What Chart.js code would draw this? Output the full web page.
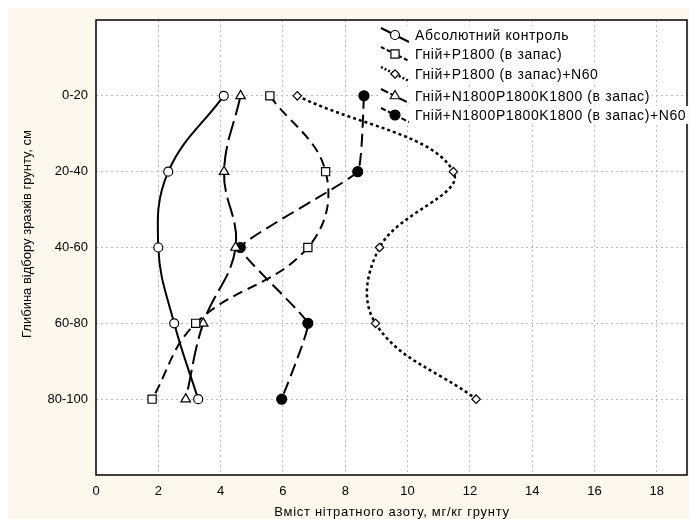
<!DOCTYPE html>
<html>
<head>
<meta charset="utf-8">
<script src="https://cdn.jsdelivr.net/npm/chart.js@4"></script>
<style>
  html, body { margin: 0; padding: 0; background: #fff; }
  #wrap { width: 689px; height: 519px; }
</style>
</head>
<body>
<div id="wrap"><canvas id="chart" width="689" height="519"></canvas></div>
<script>
// ───── Nitrate nitrogen by soil depth ─────────────────────────────────────
// Depth layers run down the y axis, nitrate content along x.

const depths = ['0-20', '20-40', '40-60', '60-80', '80-100'];
const xTicks = [0, 2, 4, 6, 8, 10, 12, 14, 16, 18];

const seriesNames = [
  'Абсолютний контроль',
  'Гній+P1800 (в запас)',
  'Гній+P1800 (в запас)+N60',
  'Гній+N1800P1800K1800 (в запас)',
  'Гній+N1800P1800K1800 (в запас)+N60',
];

// values per depth layer, mg/kg
const controlVals = [4.1, 2.32, 2.0, 2.51, 3.28];
const manureP = [5.58, 7.37, 6.8, 3.2, 1.8];
const manurePN60 = [6.46, 11.47, 9.1, 8.97, 12.2];
const manureNPK = [4.64, 4.11, 4.48, 3.44, 2.88];
const manureNPKN60 = [8.6, 8.4, 4.63, 6.8, 5.96];

const FONT = '"Liberation Sans", Arial, sans-serif';
const CREAM = '#fdf8ee';
const PLOT_RIGHT = 688;

const styles = [
  { values: controlVals, pointStyle: 'circle', radius: 4.5, fill: '#fff', dash: [], width: 2, tension: 0.4 },
  { values: manureP, pointStyle: 'rect', radius: 5.8, fill: '#fff', dash: [10, 6], width: 2, tension: 0.4 },
  { values: manurePN60, pointStyle: 'rectRot', radius: 4.2, fill: '#fff', dash: [3, 3], width: 2.5, tension: 0.4 },
  { values: manureNPK, pointStyle: 'triangle', radius: 5.5, fill: '#fff', dash: [20, 6], width: 2, tension: 0.4 },
  { values: manureNPKN60, pointStyle: 'circle', radius: 5, fill: '#000', dash: [13, 6], width: 2, tension: 0.1 },
];

const datasets = styles.map((s, i) => ({
  label: seriesNames[i],
  data: s.values.map((v, k) => ({ x: v, y: k + 1 })),
  borderColor: '#000',
  borderWidth: s.width,
  borderDash: s.dash,
  tension: s.tension,
  fill: false,
  pointStyle: s.pointStyle,
  pointRadius: s.radius,
  pointBackgroundColor: s.fill,
  pointBorderColor: '#000',
  pointBorderWidth: 1.2,
}));

// Cream page, white plot, frame, axis titles and the legend.
const decor = {
  id: 'decor',
  afterLayout(chart) {
    // stretch the plot to the right edge, the way the original sits
    const a = chart.chartArea;
    const x = chart.scales.x;
    a.right = PLOT_RIGHT;
    a.width = a.right - a.left;
    x.right = PLOT_RIGHT;
    x.width = x.right - x.left;
    x.configure();
  },
  beforeDraw(chart) {
    const { ctx, chartArea: a } = chart;
    ctx.save();
    ctx.fillStyle = '#fff';
    ctx.fillRect(0, 0, chart.width, chart.height);
    ctx.fillStyle = CREAM;
    ctx.fillRect(8, 8, chart.width - 8, chart.height - 8);
    ctx.fillStyle = '#fff';
    ctx.fillRect(a.left, a.top, a.right - a.left, a.bottom - a.top);
    ctx.restore();
  },
  afterDraw(chart) {
    const { ctx, chartArea: a } = chart;
    ctx.save();
    ctx.setLineDash([]);
    ctx.strokeStyle = '#000';
    ctx.lineWidth = 1.5;
    ctx.strokeRect(a.left, a.top, a.right - a.left - 1, a.bottom - a.top);

    // axis titles
    ctx.fillStyle = '#000';
    ctx.font = '13px ' + FONT;
    ctx.letterSpacing = '0.7px';
    ctx.textAlign = 'center';
    ctx.textBaseline = 'middle';
    ctx.fillText('Вміст нітратного азоту, мг/кг грунту', (a.left + a.right) / 2, 512);
    ctx.letterSpacing = '0px';
    ctx.translate(27, 234);
    ctx.rotate(-Math.PI / 2);
    ctx.fillText('Глибина відбору зразків грунту, см', 0, 0);
    ctx.restore();

    // legend
    ctx.save();
    ctx.font = '14px ' + FONT;
    ctx.letterSpacing = '0.6px';
    const rowY = [35, 54, 74, 96, 115];
    styles.forEach((s, i) => {
      const y = rowY[i];
      const tw = ctx.measureText(seriesNames[i]).width;
      ctx.fillStyle = '#fff';
      ctx.fillRect(378, y - 9, 415 - 378 + tw + 2, 18);
      ctx.strokeStyle = '#000';
      ctx.lineWidth = s.width;
      ctx.setLineDash(s.dash.length ? s.dash.map(d => Math.max(2, d / 2.5)) : []);
      ctx.beginPath();
      ctx.moveTo(381, y - 7);
      ctx.lineTo(409, y + 7);
      ctx.stroke();
      ctx.setLineDash([]);
      ctx.fillStyle = s.fill;
      ctx.lineWidth = 1.2;
      Chart.helpers.drawPoint(ctx, { pointStyle: s.pointStyle, radius: s.radius, rotation: 0, borderWidth: 1.2 }, 395, y);
      ctx.fillStyle = '#000';
      ctx.textAlign = 'left';
      ctx.textBaseline = 'middle';
      ctx.fillText(seriesNames[i], 415, y + 1);
    });
    ctx.restore();
  },
};

const gridColor = '#bdbdbd';

new Chart(document.getElementById('chart'), {
  type: 'line',
  data: { datasets },
  plugins: [decor],
  options: {
    responsive: false,
    animation: false,
    devicePixelRatio: 1,
    layout: { padding: { top: 20, right: 1, left: 0, bottom: 0 } },
    plugins: { legend: { display: false }, tooltip: { enabled: false } },
    scales: {
      x: {
        type: 'linear',
        min: 0,
        max: 19,
        afterFit: (scale) => {
          scale.height = 44;
          scale.paddingLeft = 0;
          scale.paddingRight = 0;
        },
        afterBuildTicks: (scale) => { scale.ticks = xTicks.map(v => ({ value: v })); },
        ticks: {
          padding: 9,
          color: '#000',
          font: { family: FONT, size: 13 },
          maxRotation: 0,
          callback: (v) => String(v),
        },
        grid: {
          color: (c) => (c.tick && c.tick.value === 0 ? 'transparent' : gridColor),
          lineWidth: 1,
          drawTicks: false,
        },
        border: { display: false, dash: [2, 3] },
      },
      y: {
        type: 'linear',
        min: 0,
        max: 6,
        reverse: true,
        afterFit: (scale) => {
          scale.width = 96;
          scale.paddingTop = 0;
          scale.paddingBottom = 0;
        },
        afterBuildTicks: (scale) => { scale.ticks = depths.map((d, i) => ({ value: i + 1 })); },
        ticks: {
          padding: 8,
          color: '#000',
          font: { family: FONT, size: 13 },
          callback: (v) => depths[v - 1] || '',
        },
        grid: { color: gridColor, lineWidth: 1, drawTicks: false },
        border: { display: false, dash: [2, 3] },
      },
    },
  },
});
</script>
</body>
</html>
